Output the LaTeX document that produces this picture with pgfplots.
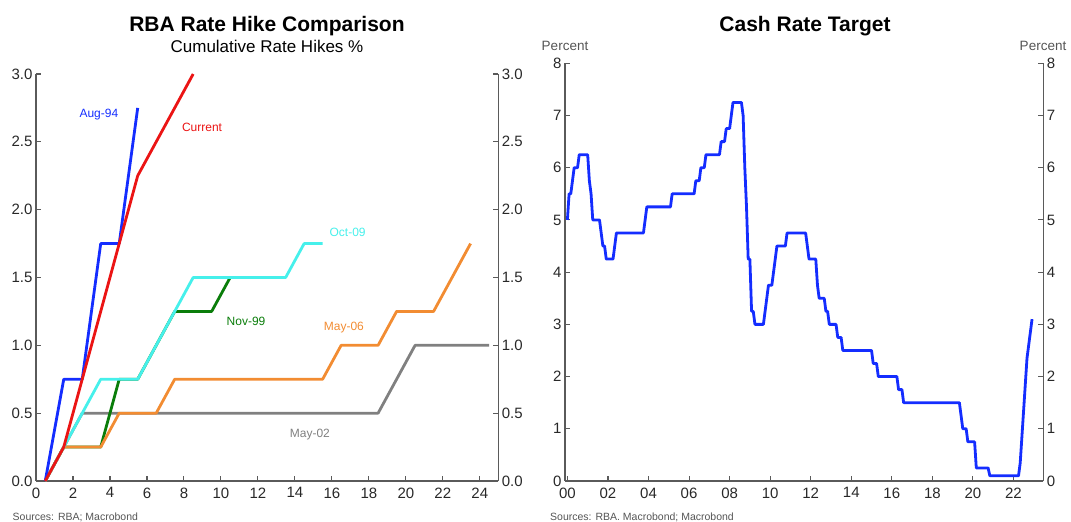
\documentclass[border=0pt]{standalone}
\usepackage{fontspec}
\setmainfont{Liberation Sans}
\usepackage{pgfplots}
\pgfplotsset{compat=1.18}
\definecolor{cblue}{RGB}{20,45,255}
\definecolor{cred}{RGB}{235,20,20}
\definecolor{ccyan}{RGB}{70,240,235}
\definecolor{cgreen}{RGB}{10,125,10}
\definecolor{corange}{RGB}{242,140,50}
\definecolor{cgray}{RGB}{128,128,128}
\definecolor{axgray}{RGB}{90,90,90}
\definecolor{tickgray}{RGB}{40,40,40}
\definecolor{txtgray}{RGB}{85,85,85}
\begin{document}
\begin{tikzpicture}
\useasboundingbox (0pt,0pt) rectangle (1071pt,522pt);
\pgfplotsset{
  base/.style={scale only axis, clip=false,
    axis line style={draw=axgray, line width=1.3pt},
    tick style={draw=axgray, line width=1.1pt},
    tick align=inside, major tick length=5pt,
    ticklabel style={font=\fontsize{15}{17}\selectfont, text=tickgray},
    xticklabel style={yshift=-3pt},
    /pgf/number format/assume math mode=true},
  ser/.style={line width=2.8pt, line join=round, line cap=butt}
}
% ---------------- left panel ----------------
\begin{axis}[base, anchor=origin, at={(36pt,41pt)}, width=462.3pt, height=407pt,
  xmin=0, xmax=25, ymin=0, ymax=3,
  axis x line*=bottom, axis y line*=left,
  xtick={0,2,...,24}, ytick={0,0.5,1,1.5,2,2.5,3},
  yticklabel style={/pgf/number format/.cd, fixed, fixed zerofill, precision=1}]
\addplot[ser, cgray] coordinates {(0.5,0) (1.5,0.25) (2.5,0.5) (18.5,0.5) (19.5,0.75) (20.5,1.0) (24.5,1.0)};
\addplot[ser, cgreen] coordinates {(0.5,0) (1.5,0.25) (3.5,0.25) (4.5,0.75) (5.5,0.75) (6.5,1.0) (7.5,1.25) (9.5,1.25) (10.5,1.5)};
\addplot[ser, corange] coordinates {(0.5,0) (1.5,0.25) (3.5,0.25) (4.5,0.5) (6.5,0.5) (7.5,0.75) (15.5,0.75) (16.5,1.0) (18.5,1.0) (19.5,1.25) (21.5,1.25) (22.5,1.5) (23.5,1.75)};
\addplot[ser, ccyan] coordinates {(0.5,0) (1.5,0.25) (2.5,0.5) (3.5,0.75) (5.5,0.75) (6.5,1.0) (7.5,1.25) (8.5,1.5) (13.5,1.5) (14.5,1.75) (15.5,1.75)};
\addplot[ser, cblue] coordinates {(0.5,0) (1.5,0.75) (2.5,0.75) (3.5,1.75) (4.5,1.75) (5.5,2.75)};
\addplot[ser, cred] coordinates {(0.5,0) (1.5,0.25) (2.5,0.75) (3.5,1.25) (4.5,1.75) (5.5,2.25) (6.5,2.5) (7.5,2.75) (8.5,3.0)};
\begin{scope}[font=\fontsize{12}{14}\selectfont]
\node[text=cblue] at (axis cs:3.4,2.70) {Aug-94};
\node[text=cred] at (axis cs:8.98,2.61) {Current};
\node[text=ccyan] at (axis cs:16.85,1.83) {Oct-09};
\node[text=cgreen] at (axis cs:11.36,1.18) {Nov-99};
\node[text=corange] at (axis cs:16.65,1.13) {May-06};
\node[text=cgray] at (axis cs:14.81,0.34) {May-02};
\end{scope}
\end{axis}
\begin{axis}[base, anchor=origin, at={(36pt,41pt)}, width=462.3pt, height=407pt,
  xmin=0, xmax=25, ymin=0, ymax=3,
  axis x line=none, axis y line*=right,
  ytick={0,0.5,1,1.5,2,2.5,3},
  yticklabel style={/pgf/number format/.cd, fixed, fixed zerofill, precision=1}]
\end{axis}
% ---------------- right panel ----------------
\begin{axis}[base, anchor=origin, at={(567.4pt,41pt)}, width=478.3pt, height=417.7pt,
  xmin=-0.12, xmax=23.47, ymin=0, ymax=8,
  axis x line*=bottom, axis y line*=left,
  xtick={0,2,...,22}, xticklabels={00,02,04,06,08,10,12,14,16,18,20,22},
  ytick={0,1,...,8}]
\addplot[ser, cblue] coordinates {
(0,5.0) (0.0833,5.5) (0.1667,5.5) (0.25,5.75) (0.3333,6.0) (0.5,6.0) (0.5833,6.25)
(1.0,6.25) (1.0833,5.75) (1.1667,5.5) (1.25,5.0) (1.5833,5.0) (1.6667,4.75) (1.75,4.5)
(1.8333,4.5) (1.9167,4.25) (2.25,4.25) (2.3333,4.5) (2.4167,4.75) (3.75,4.75) (3.8333,5.0)
(3.9167,5.25) (5.0833,5.25) (5.1667,5.5) (6.25,5.5) (6.3333,5.75) (6.5,5.75) (6.5833,6.0)
(6.75,6.0) (6.8333,6.25) (7.5,6.25) (7.5833,6.5) (7.75,6.5) (7.8333,6.75) (8.0,6.75)
(8.0833,7.0) (8.1667,7.25) (8.5833,7.25) (8.6667,7.0) (8.75,6.0) (8.8333,5.25) (8.9167,4.25)
(9.0,4.25) (9.0833,3.25) (9.1667,3.25) (9.25,3.0) (9.6667,3.0) (9.75,3.25) (9.8333,3.5)
(9.9167,3.75) (10.0833,3.75) (10.1667,4.0) (10.25,4.25) (10.3333,4.5) (10.75,4.5) (10.8333,4.75)
(11.75,4.75) (11.8333,4.5) (11.9167,4.25) (12.25,4.25) (12.3333,3.75) (12.4167,3.5) (12.6667,3.5)
(12.75,3.25) (12.8333,3.25) (12.9167,3.0) (13.25,3.0) (13.3333,2.75) (13.5,2.75) (13.5833,2.5)
(15.0,2.5) (15.0833,2.25) (15.25,2.25) (15.3333,2.0) (16.25,2.0) (16.3333,1.75) (16.5,1.75)
(16.5833,1.5) (19.3333,1.5) (19.4167,1.25) (19.5,1.0) (19.6667,1.0) (19.75,0.75) (20.0833,0.75)
(20.1667,0.25) (20.75,0.25) (20.8333,0.1) (22.25,0.1) (22.3333,0.35) (22.4167,0.85) (22.5,1.35)
(22.5833,1.85) (22.6667,2.35) (22.75,2.6) (22.8333,2.85) (22.9167,3.1)};
\end{axis}
\begin{axis}[base, anchor=origin, at={(567.4pt,41pt)}, width=478.3pt, height=417.7pt,
  xmin=-0.12, xmax=23.47, ymin=0, ymax=8,
  axis x line=none, axis y line*=right,
  ytick={0,1,...,8}]
\end{axis}
% ---------------- titles and notes ----------------
\node[anchor=base, font=\fontsize{21}{24}\selectfont\bfseries] at (267pt,490.5pt) {RBA Rate Hike Comparison};
\node[anchor=base, font=\fontsize{17}{20}\selectfont] at (267pt,469pt) {Cumulative Rate Hikes \%};
\node[anchor=base, font=\fontsize{21}{24}\selectfont\bfseries] at (805pt,490.5pt) {Cash Rate Target};
\node[anchor=base, text=txtgray, font=\fontsize{13.5}{16}\selectfont] at (565pt,471pt) {Percent};
\node[anchor=base, text=txtgray, font=\fontsize{13.5}{16}\selectfont] at (1043pt,471pt) {Percent};
\node[anchor=base west, inner sep=0pt, text=txtgray, font=\fontsize{10.5}{12}\selectfont] at (12.5pt,1.8pt) {Sources: RBA; Macrobond};
\node[anchor=base west, inner sep=0pt, text=txtgray, font=\fontsize{10.5}{12}\selectfont] at (550pt,1.8pt) {Sources: RBA. Macrobond; Macrobond};
\end{tikzpicture}
\end{document}
